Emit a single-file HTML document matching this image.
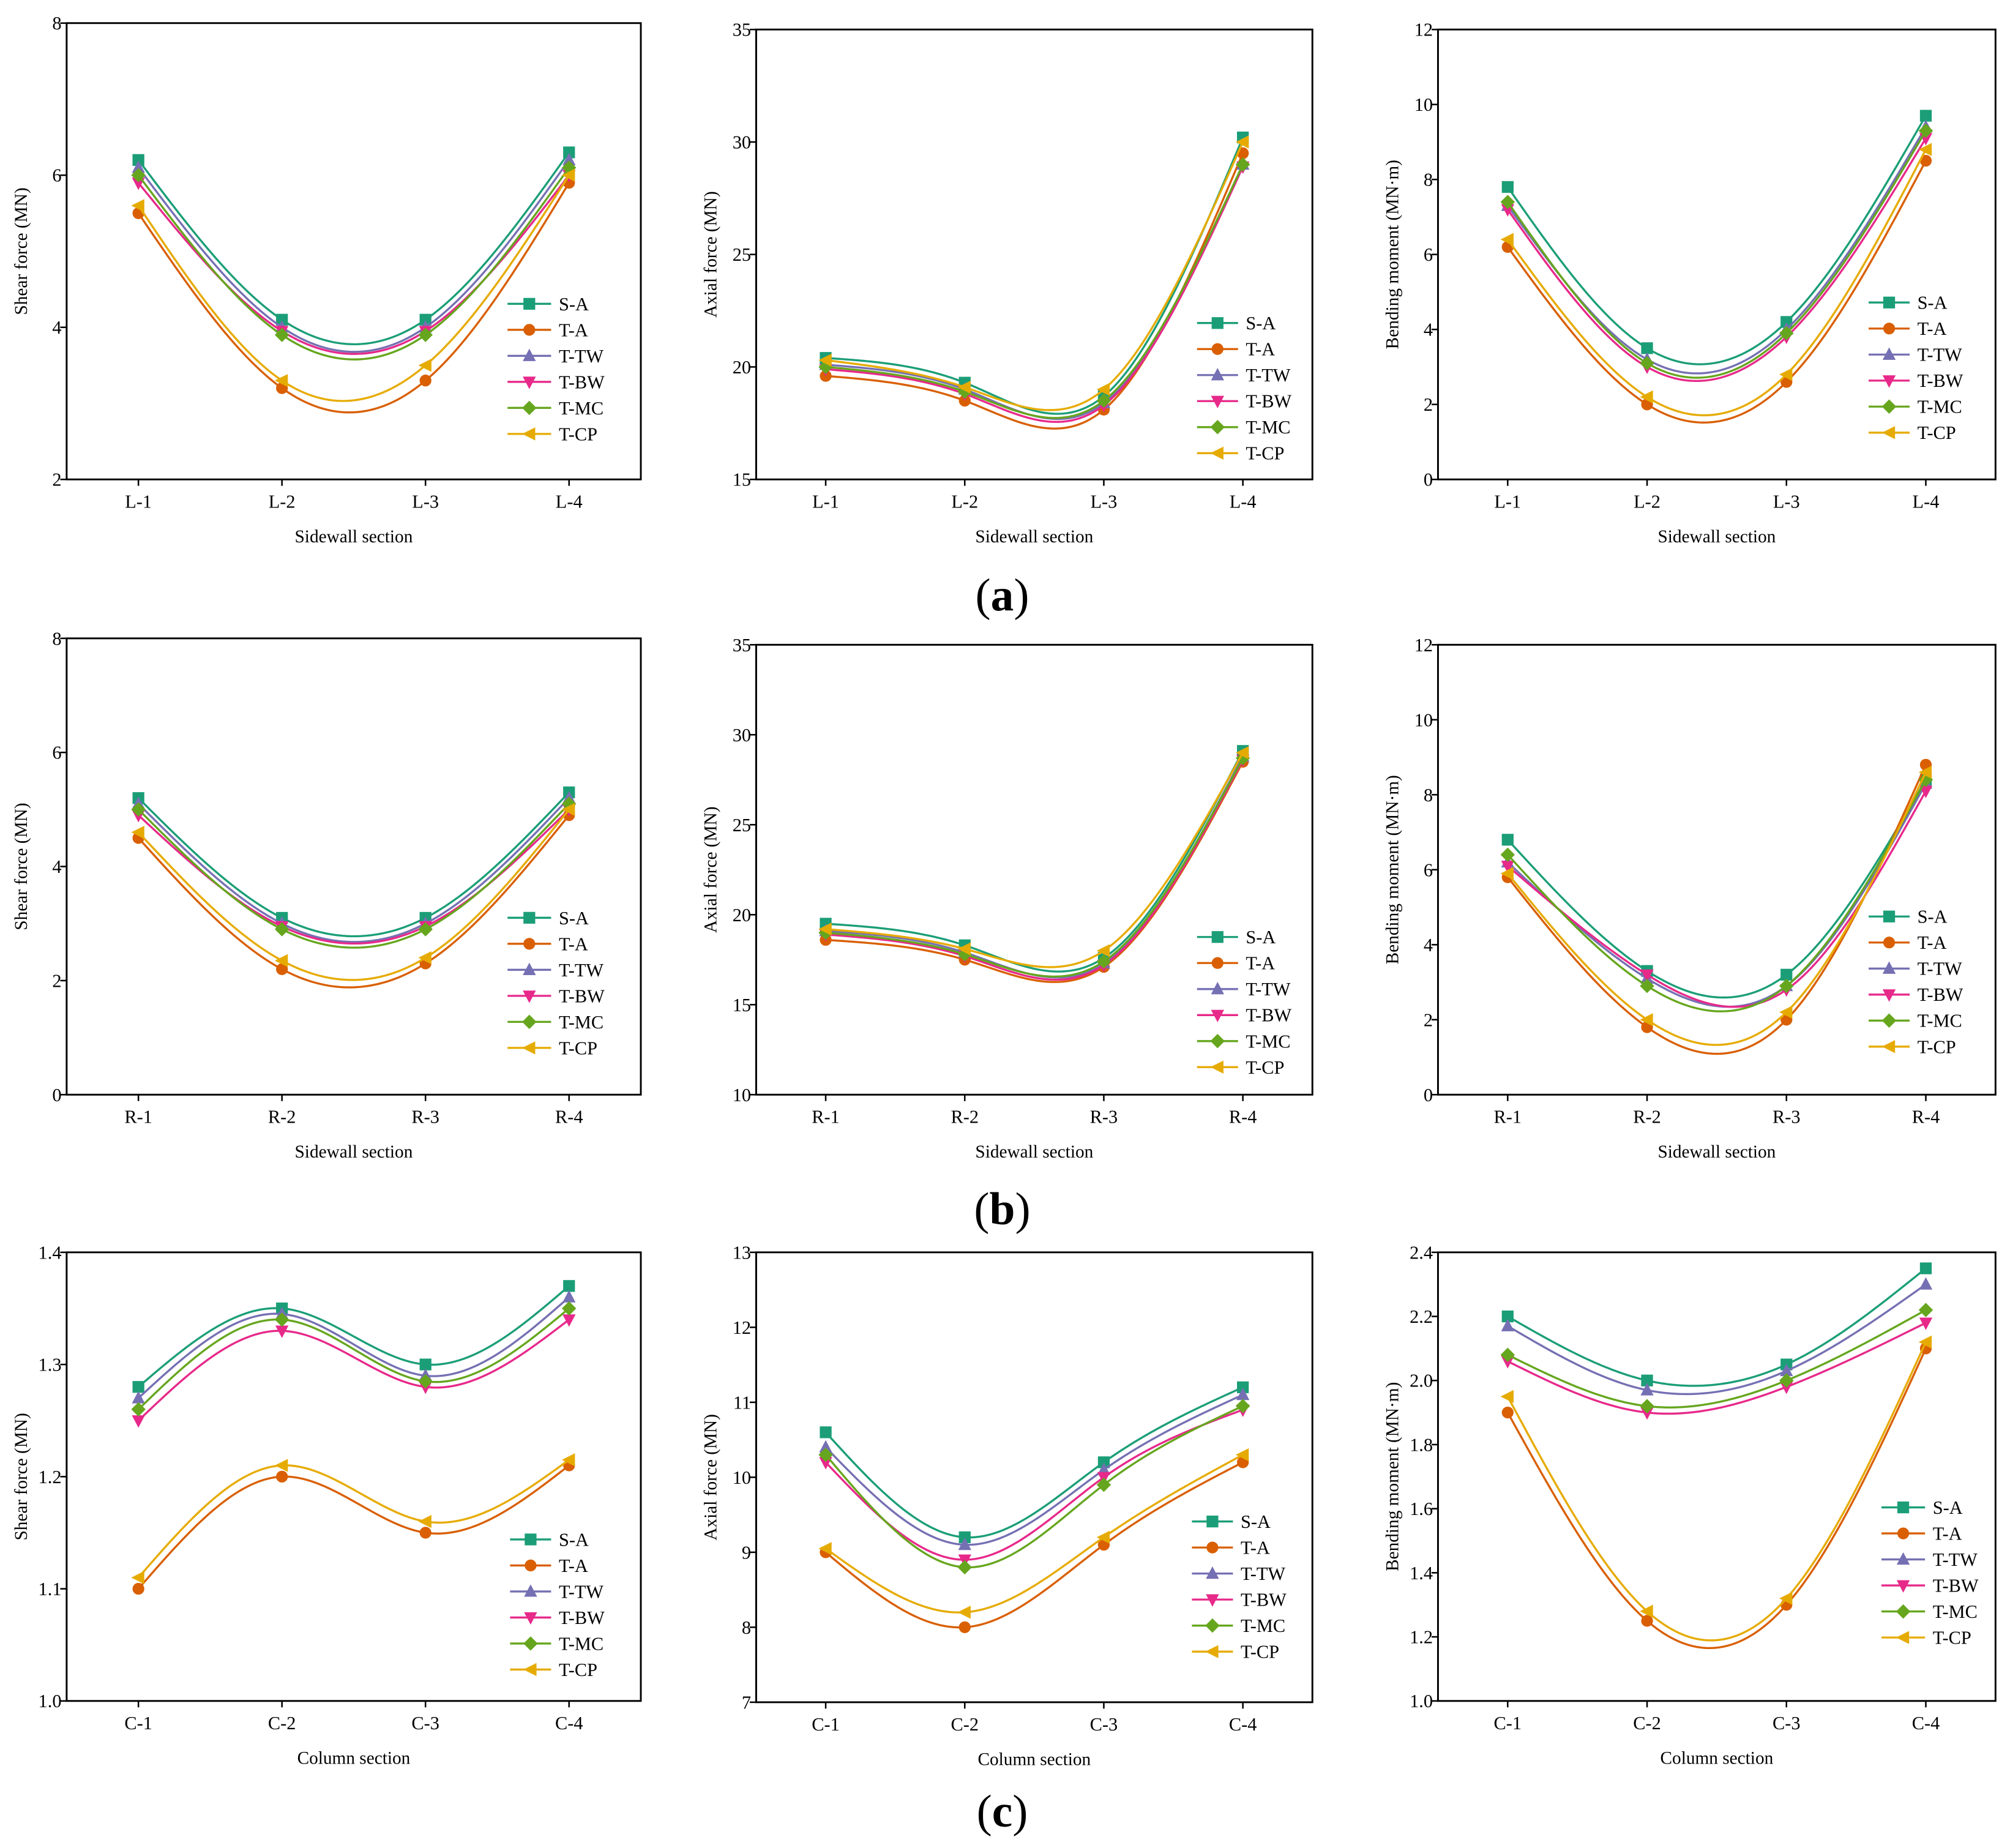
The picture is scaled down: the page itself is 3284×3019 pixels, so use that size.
<!DOCTYPE html>
<html><head><meta charset="utf-8"><style>
html,body{margin:0;padding:0;background:#fff;}
svg{display:block;}
text{font-family:"Liberation Serif",serif;fill:#000;}
</style></head><body>
<svg id="fig" xmlns="http://www.w3.org/2000/svg" width="3284" height="3019" viewBox="0 0 1568.3 1441.7">
<rect x="0" y="0" width="1568.3" height="1441.7" fill="#fff"/>
<text x="782" y="476" font-size="36" text-anchor="middle">(<tspan font-weight="bold">a</tspan>)</text>
<text x="782" y="955" font-size="36" text-anchor="middle">(<tspan font-weight="bold">b</tspan>)</text>
<text x="782" y="1425" font-size="36" text-anchor="middle">(<tspan font-weight="bold">c</tspan>)</text>
</svg>
<script>
const seriesNames = ["S-A","T-A","T-TW","T-BW","T-MC","T-CP"];
const seriesColors = ["#1b9e77","#d95f02","#7570b3","#e7298a","#66a61e","#e6ab02"];
const catsL = ["L-1","L-2","L-3","L-4"];
const catsR = ["R-1","R-2","R-3","R-4"];
const catsC = ["C-1","C-2","C-3","C-4"];
const a1SA=[6.2,4.1,4.1,6.3], a1TA=[5.5,3.2,3.3,5.9], a1TW=[6.1,4.0,4.0,6.2], a1BW=[5.9,3.95,3.95,6.0], a1MC=[6.0,3.9,3.9,6.1], a1CP=[5.6,3.3,3.5,6.0];
const a1Ticks=[2,4,6,8];
const a2SA=[20.4,19.3,18.7,30.2], a2TA=[19.6,18.5,18.1,29.5], a2TW=[20.1,19.0,18.4,29.0], a2BW=[19.9,18.8,18.3,28.9], a2MC=[20.0,18.9,18.5,29.0], a2CP=[20.3,19.1,19.0,30.0];
const a2Ticks=[15,20,25,30,35];
const a3SA=[7.8,3.5,4.2,9.7], a3TA=[6.2,2.0,2.6,8.5], a3TW=[7.3,3.2,4.0,9.4], a3BW=[7.2,3.0,3.8,9.1], a3MC=[7.4,3.1,3.9,9.3], a3CP=[6.4,2.2,2.8,8.8];
const a3Ticks=[0,2,4,6,8,10,12];
const b1SA=[5.2,3.1,3.1,5.3], b1TA=[4.5,2.2,2.3,4.9], b1TW=[5.1,3.0,3.0,5.2], b1BW=[4.9,2.95,2.95,5.0], b1MC=[5.0,2.9,2.9,5.1], b1CP=[4.6,2.35,2.4,5.0];
const b1Ticks=[0,2,4,6,8];
const b2SA=[19.5,18.3,17.6,29.1], b2TA=[18.6,17.5,17.1,28.5], b2TW=[19.1,17.9,17.3,28.8], b2BW=[18.9,17.7,17.2,28.6], b2MC=[19.0,17.8,17.4,28.7], b2CP=[19.2,18.1,18.0,29.0];
const b2Ticks=[10,15,20,25,30,35];
const b3SA=[6.8,3.3,3.2,8.4], b3TA=[5.8,1.8,2.0,8.8], b3TW=[6.2,3.1,2.9,8.3], b3BW=[6.1,3.2,2.8,8.1], b3MC=[6.4,2.9,2.9,8.4], b3CP=[5.9,2.0,2.2,8.6];
const b3Ticks=[0,2,4,6,8,10,12];
const c1SA=[1.28,1.35,1.30,1.37], c1TA=[1.10,1.20,1.15,1.21], c1TW=[1.27,1.345,1.29,1.36], c1BW=[1.25,1.33,1.28,1.34], c1MC=[1.26,1.34,1.285,1.35], c1CP=[1.11,1.21,1.16,1.215];
const c1Ticks=["1.0","1.1","1.2","1.3","1.4"];
const c2SA=[10.6,9.2,10.2,11.2], c2TA=[9.0,8.0,9.1,10.2], c2TW=[10.4,9.1,10.1,11.1], c2BW=[10.2,8.9,10.0,10.9], c2MC=[10.3,8.8,9.9,10.95], c2CP=[9.05,8.2,9.2,10.3];
const c2Ticks=[7,8,9,10,11,12,13];
const c3SA=[2.2,2.0,2.05,2.35], c3TA=[1.9,1.25,1.3,2.1], c3TW=[2.17,1.97,2.03,2.30], c3BW=[2.06,1.90,1.98,2.18], c3MC=[2.08,1.92,2.0,2.22], c3CP=[1.95,1.28,1.32,2.12];
const c3Ticks=["1.0","1.2","1.4","1.6","1.8","2.0","2.2","2.4"];

const svg=document.getElementById('fig');
const NS="http://www.w3.org/2000/svg";
function mk(tag,attrs,parent){const e=document.createElementNS(NS,tag);for(const k in attrs)e.setAttribute(k,attrs[k]);(parent||svg).appendChild(e);return e;}

function spline(xs,ys){
  const n=xs.length, h=[], a=[], l=[1], mu=[0], z=[0], c=new Array(n).fill(0), b=[], d=[];
  for(let i=0;i<n-1;i++)h.push(xs[i+1]-xs[i]);
  for(let i=1;i<n-1;i++)a[i]=3/h[i]*(ys[i+1]-ys[i])-3/h[i-1]*(ys[i]-ys[i-1]);
  for(let i=1;i<n-1;i++){l[i]=2*(xs[i+1]-xs[i-1])-h[i-1]*mu[i-1];mu[i]=h[i]/l[i];z[i]=(a[i]-h[i-1]*z[i-1])/l[i];}
  c[n-1]=0;for(let j=n-2;j>=1;j--)c[j]=z[j]-mu[j]*c[j+1];c[0]=0;
  for(let j=0;j<n-1;j++){b[j]=(ys[j+1]-ys[j])/h[j]-h[j]*(c[j+1]+2*c[j])/3;d[j]=(c[j+1]-c[j])/(3*h[j]);}
  let p="";
  for(let j=0;j<n-1;j++)for(let t=0;t<=40;t++){const dx=h[j]*t/40;const y=ys[j]+b[j]*dx+c[j]*dx*dx+d[j]*dx*dx*dx;p+=(p?"L":"M")+(xs[j]+dx).toFixed(2)+","+y.toFixed(2);}
  return p;
}
function marker(k,x,y,col,g){const s=4.6;let e;
  if(k===0)e=mk('rect',{x:x-s,y:y-s,width:2*s,height:2*s,fill:col},g);
  else if(k===1)e=mk('circle',{cx:x,cy:y,r:s,fill:col},g);
  else if(k===2)e=mk('polygon',{points:`${x},${y-s-1} ${x+s+0.5},${y+s-0.5} ${x-s-0.5},${y+s-0.5}`,fill:col},g);
  else if(k===3)e=mk('polygon',{points:`${x},${y+s+1} ${x+s+0.5},${y-s+0.5} ${x-s-0.5},${y-s+0.5}`,fill:col},g);
  else if(k===4)e=mk('polygon',{points:`${x},${y-s-1} ${x+s+1},${y} ${x},${y+s+1} ${x-s-1},${y}`,fill:col},g);
  else e=mk('polygon',{points:`${x-s-1},${y} ${x+s},${y-s-0.5} ${x+s},${y+s+0.5}`,fill:col},g);
  return e;}

function panel(id,box,cats,series,ticks,ytitle,xtitle,leg){
  const [L,R,T,B]=box;
  const g=mk('g',{});
  
  
  const tv=ticks.map(Number);const ymin=tv[0],ymax=tv[tv.length-1];
  const ys=v=>B-(v-ymin)/(ymax-ymin)*(B-T);
  const xs=i=>L+(i+0.5)/cats.length*(R-L);
  series.forEach((vals,k)=>{
    const px=vals.map((v,i)=>xs(i)),py=vals.map(v=>ys(v));
    const path=mk('path',{d:spline(px,py),fill:'none',stroke:seriesColors[k],'stroke-width':1.6},g);
    
    
    vals.forEach((v,i)=>{const m=marker(k,xs(i),ys(v),seriesColors[k],g);
      
      });
  });
  const frame=mk('rect',{x:L,y:T,width:R-L,height:B-T,fill:'none',stroke:'#000','stroke-width':1.4},g);
  
  
  ticks.forEach(t=>{const y=ys(Number(t));
    mk('line',{x1:L-5,x2:L,y1:y,y2:y,stroke:'#000','stroke-width':1.2},g);
    const tx=mk('text',{x:L-4,y:y+5,'font-size':14.5,'text-anchor':'end'},g);tx.textContent=t;
    
    });
  cats.forEach((c,i)=>{const x=xs(i);
    mk('line',{x1:x,x2:x,y1:B,y2:B+5,stroke:'#000','stroke-width':1.2},g);
    const tx=mk('text',{x:x,y:B+22,'font-size':14.5,'text-anchor':'middle'},g);tx.textContent=c;
    
    });
  const yt=mk('text',{x:0,y:0,'font-size':14,'text-anchor':'middle',transform:`translate(${L-31},${(T+B)/2}) rotate(-90)`},g);
  yt.textContent=ytitle;
  
  
  const xt=mk('text',{x:(L+R)/2,y:B+49,'font-size':14,'text-anchor':'middle'},g);
  xt.textContent=xtitle;
  
  
  const [lx1,lx2,ly]=leg;
  seriesNames.forEach((n,k)=>{const y=ly+k*20.3;
    const lg=mk('g',{},g);
    
    
    mk('line',{x1:lx1,x2:lx2,y1:y,y2:y,stroke:seriesColors[k],'stroke-width':1.6},lg);
    marker(k,(lx1+lx2)/2,y,seriesColors[k],lg);
    const tx=mk('text',{x:lx2+6,y:y+5,'font-size':14.5},lg);tx.textContent=n;});
}
panel('shear-a',[52,500,18,374],catsL,[a1SA,a1TA,a1TW,a1BW,a1MC,a1CP],a1Ticks,'Shear force (MN)','Sidewall section',[396,430,237]);
panel('axial-a',[590,1024,23,374],catsL,[a2SA,a2TA,a2TW,a2BW,a2MC,a2CP],a2Ticks,'Axial force (MN)','Sidewall section',[934,966,252]);
panel('bending-a',[1122,1557,23,374],catsL,[a3SA,a3TA,a3TW,a3BW,a3MC,a3CP],a3Ticks,'Bending moment (MN\u00b7m)','Sidewall section',[1458,1490,236]);
panel('shear-b',[52,500,498,854],catsR,[b1SA,b1TA,b1TW,b1BW,b1MC,b1CP],b1Ticks,'Shear force (MN)','Sidewall section',[396,430,716]);
panel('axial-b',[590,1024,503,854],catsR,[b2SA,b2TA,b2TW,b2BW,b2MC,b2CP],b2Ticks,'Axial force (MN)','Sidewall section',[934,966,731]);
panel('bending-b',[1122,1557,503,854],catsR,[b3SA,b3TA,b3TW,b3BW,b3MC,b3CP],b3Ticks,'Bending moment (MN\u00b7m)','Sidewall section',[1458,1490,715]);
panel('shear-c',[52,500,977,1327],catsC,[c1SA,c1TA,c1TW,c1BW,c1MC,c1CP],c1Ticks,'Shear force (MN)','Column section',[398,430,1201]);
panel('axial-c',[590,1024,977,1328],catsC,[c2SA,c2TA,c2TW,c2BW,c2MC,c2CP],c2Ticks,'Axial force (MN)','Column section',[930,962,1187]);
panel('bending-c',[1122,1557,977,1327],catsC,[c3SA,c3TA,c3TW,c3BW,c3MC,c3CP],c3Ticks,'Bending moment (MN\u00b7m)','Column section',[1468,1502,1176]);
</script>
</body></html>
